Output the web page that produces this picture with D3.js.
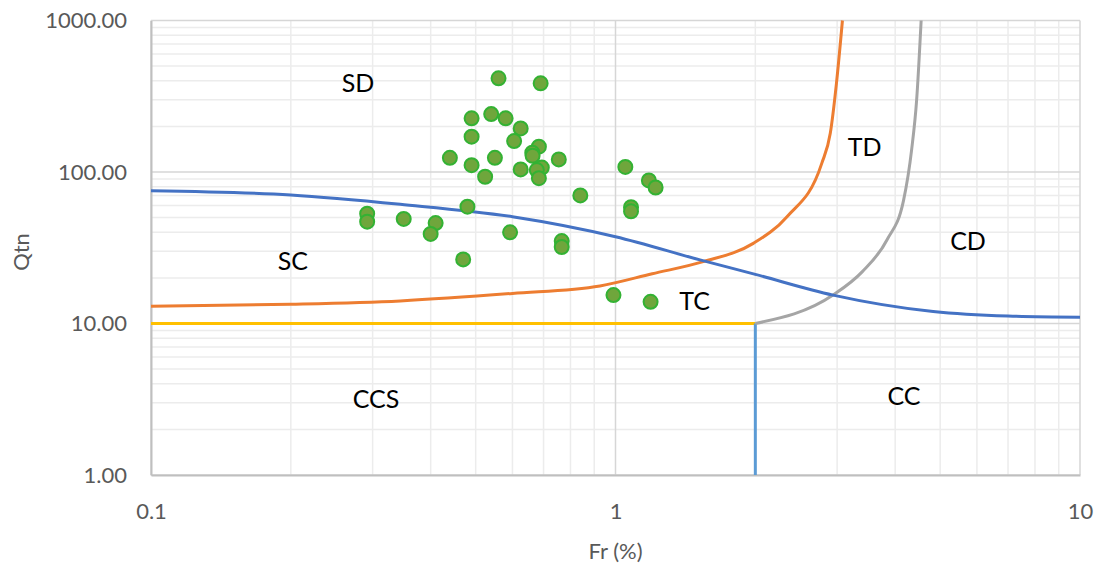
<!DOCTYPE html>
<html>
<head>
<meta charset="utf-8">
<script src="https://cdn.jsdelivr.net/npm/d3@7"></script>
<style>
  html, body { margin: 0; padding: 0; background: #fff; }
  svg { display: block; }
</style>
</head>
<body>
<svg id="chart" width="1104" height="569"></svg>
<script>
// ---- Data ----
const xTickValues = [0.1, 1, 10];
const xTickLabels = ["0.1", "1", "10"];
const yTickValues = [1, 10, 100, 1000];
const yTickLabels = ["1.00", "10.00", "100.00", "1000.00"];

// Measured points
const pointFr = [0.56, 0.69, 0.49, 0.54, 0.58, 0.625, 0.49, 0.605, 0.684, 0.662, 0.663,
  0.44, 0.55, 0.755, 0.49, 0.524, 0.625, 0.694, 0.677, 0.684, 1.05, 1.18, 1.22, 0.84,
  1.08, 1.08, 0.48, 0.292, 0.292, 0.35, 0.41, 0.40, 0.593, 0.766, 0.766, 0.47, 0.99, 1.19];
const pointQtn = [415, 385, 226, 241, 226, 194, 171, 160, 147, 134, 128,
  124, 124, 121, 111, 93, 104, 107, 103, 91, 108, 88, 79, 70,
  58.5, 55, 59, 53, 47, 49, 46, 39, 40, 35, 32, 26.5, 15.4, 13.9];

// Boundary: blue (SC / CD curve)
const blueFr  = [0.1, 0.2, 0.344, 0.6, 1.0, 1.52, 2.0, 2.94, 4.83, 7.0, 10];
const blueQtn = [75.3, 70.5, 61.2, 50.7, 37.4, 26.3, 21.1, 15.4, 12.0, 11.2, 11.0];
// Boundary: orange
const orangeFr  = [0.1, 0.2, 0.344, 0.6, 0.926, 1.2, 1.545, 1.98, 2.34, 2.78, 2.90, 2.99, 3.08];
const orangeQtn = [13.0, 13.4, 14.1, 15.8, 17.7, 21.3, 25.6, 33.8, 50.7, 114, 180, 385, 1000];
// Boundary: grey
const greyFr  = [2.0, 2.94, 3.4, 3.84, 4.17, 4.34, 4.45, 4.55];
const greyQtn = [10, 15.4, 22, 35.6, 65, 140, 300, 1000];
// Boundary: yellow horizontal
const yellowFr  = [0.1, 2.0];
const yellowQtn = [10, 10];
// Boundary: light blue vertical
const vblueFr  = [2.0, 2.0];
const vblueQtn = [10, 1];

// Region labels
const regionNames = ["SD", "TD", "SC", "CD", "TC", "CCS", "CC"];
const regionFr    = [0.279, 3.44, 0.202, 5.74, 1.48, 0.305, 4.18];
const regionQtn   = [393, 148, 26.3, 35.6, 14.3, 3.22, 3.37];

// ---- Layout ----
const svg = d3.select("#chart");
const L = 151, R = 1080, T = 20.5, B = 475;
const x = d3.scaleLog().domain([0.1, 10]).range([L, R]);
const y = d3.scaleLog().domain([1, 1000]).range([B, T]);

const font = "Lato, 'Open Sans', sans-serif";

// Minor gridlines
const minorX = [], minorY = [];
[0.1, 1].forEach(d => { for (let k = 2; k <= 9; k++) minorX.push(d * k); });
[1, 10, 100].forEach(d => { for (let k = 2; k <= 9; k++) minorY.push(d * k); });

const grid = svg.append("g");
grid.selectAll(".mx").data(minorX).join("line")
  .attr("x1", d => x(d)).attr("x2", d => x(d)).attr("y1", T).attr("y2", B)
  .attr("stroke", "#ececec").attr("stroke-width", 1.5);
grid.selectAll(".my").data(minorY).join("line")
  .attr("x1", L).attr("x2", R).attr("y1", d => y(d)).attr("y2", d => y(d))
  .attr("stroke", "#ececec").attr("stroke-width", 1.5);
grid.selectAll(".MX").data(xTickValues).join("line")
  .attr("x1", d => x(d)).attr("x2", d => x(d)).attr("y1", T).attr("y2", B)
  .attr("stroke", "#d6d6d6").attr("stroke-width", 1.5);
grid.selectAll(".MY").data(yTickValues).join("line")
  .attr("x1", L).attr("x2", R).attr("y1", d => y(d)).attr("y2", d => y(d))
  .attr("stroke", "#d6d6d6").attr("stroke-width", 1.5);

// Axes (D3 axes, styled like Excel)
const xAxis = d3.axisBottom(x).tickValues(xTickValues)
  .tickFormat((d, i) => xTickLabels[i]).tickSize(0).tickPadding(28);
const yAxis = d3.axisLeft(y).tickValues(yTickValues)
  .tickFormat((d, i) => yTickLabels[i]).tickSize(0).tickPadding(24);

const gx = svg.append("g").attr("transform", `translate(0,${B})`).call(xAxis);
const gy = svg.append("g").attr("transform", `translate(${L},0)`).call(yAxis);
[gx, gy].forEach(g => {
  g.select(".domain").attr("stroke", "#bfbfbf").attr("stroke-width", 2);
  g.selectAll("text").attr("fill", "#595959").style("font-family", font).style("font-size", "22px");
});

// Lines
const line = d3.line().x(d => x(d[0])).y(d => y(d[1]));
const smooth = d3.line().x(d => x(d[0])).y(d => y(d[1])).curve(d3.curveMonotoneX);
const zip = (a, b) => a.map((v, i) => [v, b[i]]);

svg.append("path").datum(zip(yellowFr, yellowQtn)).attr("d", line)
  .attr("fill", "none").attr("stroke", "#FFC000").attr("stroke-width", 3);
svg.append("path").datum(zip(vblueFr, vblueQtn)).attr("d", line)
  .attr("fill", "none").attr("stroke", "#5B9BD5").attr("stroke-width", 3);
svg.append("path").datum(zip(greyFr, greyQtn)).attr("d", smooth)
  .attr("fill", "none").attr("stroke", "#A5A5A5").attr("stroke-width", 3);
svg.append("path").datum(zip(orangeFr, orangeQtn)).attr("d", smooth)
  .attr("fill", "none").attr("stroke", "#ED7D31").attr("stroke-width", 3);
svg.append("path").datum(zip(blueFr, blueQtn)).attr("d", smooth)
  .attr("fill", "none").attr("stroke", "#4472C4").attr("stroke-width", 3);

// Points
svg.append("g").selectAll("circle").data(zip(pointFr, pointQtn)).join("circle")
  .attr("cx", d => x(d[0])).attr("cy", d => y(d[1])).attr("r", 7)
  .attr("fill", "#6FA63C").attr("stroke", "#33B233").attr("stroke-width", 2);

// Region labels
svg.append("g").selectAll("text").data(regionNames).join("text")
  .attr("x", (d, i) => x(regionFr[i])).attr("y", (d, i) => y(regionQtn[i]))
  .attr("text-anchor", "middle").attr("dominant-baseline", "central")
  .style("font-family", font).style("font-size", "25px").attr("fill", "#000")
  .text(d => d);

// Axis titles
svg.append("text").attr("x", (L + R) / 2).attr("y", 559).attr("text-anchor", "middle")
  .style("font-family", font).style("font-size", "22px").attr("fill", "#595959").text("Fr (%)");
svg.append("text").attr("transform", `translate(29,252) rotate(-90)`)
  .attr("text-anchor", "middle")
  .style("font-family", font).style("font-size", "22px").attr("fill", "#595959").text("Qtn");
</script>
</body>
</html>
